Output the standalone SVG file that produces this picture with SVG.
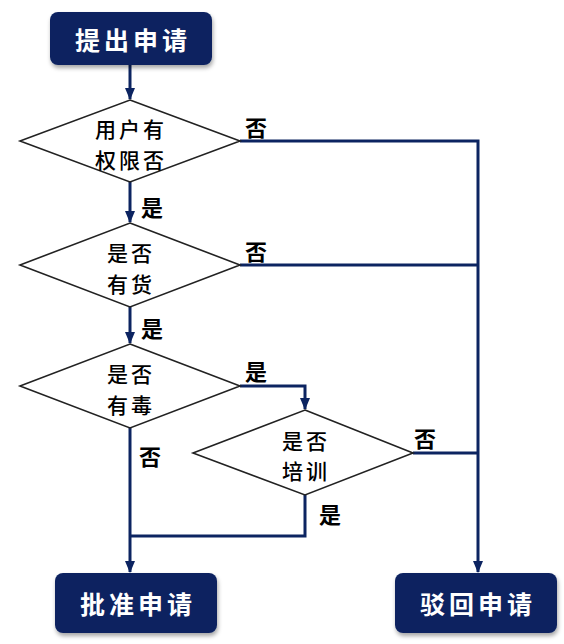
<svg xmlns="http://www.w3.org/2000/svg" width="564" height="644" viewBox="0 0 564 644">
<style>
.box{fill:#0c2461;}
.bt{fill:#fff;font-family:"Noto Sans CJK SC",sans-serif;font-size:25px;font-weight:700;letter-spacing:4px;text-anchor:middle;dominant-baseline:central;}
.dia{fill:#fff;stroke:#222;stroke-width:1.6;}
.dt{fill:#000;font-family:"Noto Sans CJK SC",sans-serif;font-size:21px;font-weight:500;letter-spacing:3px;text-anchor:middle;dominant-baseline:central;}
.lb{fill:#000;font-family:"Noto Sans CJK SC",sans-serif;font-size:22px;font-weight:700;text-anchor:middle;dominant-baseline:central;}
.ln{fill:none;stroke:#0c2461;stroke-width:3;}
</style>
<defs>
<marker id="ah" markerWidth="12" markerHeight="10" refX="11" refY="5" orient="auto" markerUnits="userSpaceOnUse">
<path d="M0,0 L12,5 L0,10 Z" fill="#0c2461"/>
</marker>
<filter id="sh" x="-10%" y="-10%" width="130%" height="140%">
<feDropShadow dx="1" dy="3" stdDeviation="2" flood-color="#000" flood-opacity="0.35"/>
</filter>
</defs>
<rect width="564" height="644" fill="#fff"/>
<g id="connectors">
<line class="ln" x1="130" y1="65" x2="130" y2="99" marker-end="url(#ah)"/>
<line class="ln" x1="130" y1="182" x2="130" y2="222" marker-end="url(#ah)"/>
<line class="ln" x1="130" y1="307" x2="130" y2="343" marker-end="url(#ah)"/>
<polyline class="ln" points="240,386 305,386 305,409" marker-end="url(#ah)"/>
<polyline class="ln" points="240,141 478,141 478,572" marker-end="url(#ah)"/>
<line class="ln" x1="240" y1="265" x2="478" y2="265"/>
<line class="ln" x1="413" y1="453" x2="478" y2="453"/>
<line class="ln" x1="130" y1="428" x2="130" y2="572" marker-end="url(#ah)"/>
<polyline class="ln" points="305,495 305,536 130,536"/>
<text class="lb" x="256" y="126">否</text>
<text class="lb" x="152" y="206">是</text>
<text class="lb" x="256" y="250">否</text>
<text class="lb" x="152" y="327">是</text>
<text class="lb" x="256" y="370">是</text>
<text class="lb" x="150" y="455">否</text>
<text class="lb" x="425" y="437">否</text>
<text class="lb" x="330" y="513">是</text>
</g>
<g id="start">
<rect class="box" x="50" y="12" width="162" height="53" rx="8" filter="url(#sh)"/>
<text class="bt" x="133" y="39">提出申请</text>
</g>
<g id="d1">
<polygon class="dia" points="130,100 240,141 130,182 20,141"/>
<text class="dt" x="131" y="128">用户有</text>
<text class="dt" x="131" y="159">权限否</text>
</g>
<g id="d2">
<polygon class="dia" points="130,223 240,265 130,307 20,265"/>
<text class="dt" x="131" y="252">是否</text>
<text class="dt" x="131" y="283">有货</text>
</g>
<g id="d3">
<polygon class="dia" points="130,344 240,386 130,428 20,386"/>
<text class="dt" x="131" y="373">是否</text>
<text class="dt" x="131" y="404">有毒</text>
</g>
<g id="d4">
<polygon class="dia" points="305,410 413,453 305,495 193,453"/>
<text class="dt" x="306" y="440">是否</text>
<text class="dt" x="306" y="470">培训</text>
</g>
<g id="approve">
<rect class="box" x="55" y="573" width="162" height="60" rx="8" filter="url(#sh)"/>
<text class="bt" x="138" y="603">批准申请</text>
</g>
<g id="reject">
<rect class="box" x="395" y="573" width="162" height="60" rx="8" filter="url(#sh)"/>
<text class="bt" x="478" y="603">驳回申请</text>
</g>
</svg>
